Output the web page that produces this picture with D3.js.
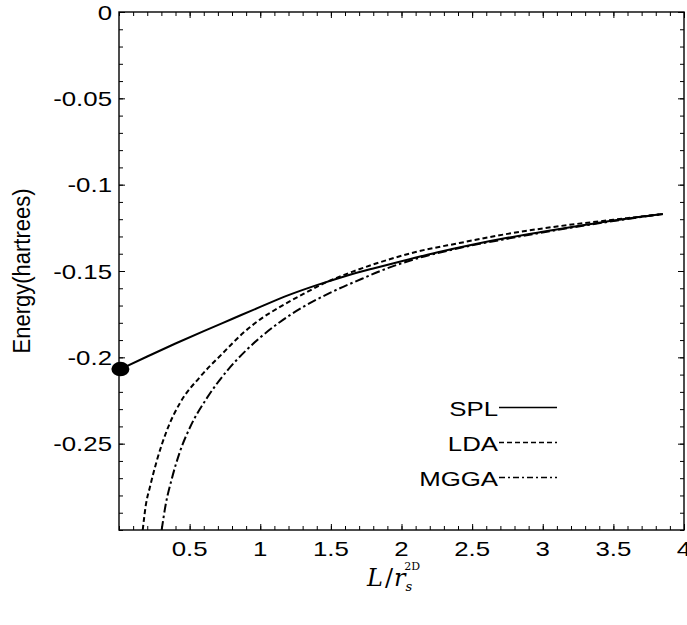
<!DOCTYPE html>
<html>
<head>
<meta charset="utf-8">
<script src="https://cdn.jsdelivr.net/npm/d3@7"></script>
<style>
  html, body { margin: 0; padding: 0; background: #fff; }
  text { font-family: "Liberation Sans", Arial, sans-serif; fill: #000; }
</style>
</head>
<body>
<div id="chart"></div>
<script>
// energy_vs_L.js

// --- DATA ---
const splX  = [0.01, 0.2, 0.4, 0.6, 0.8, 1.0, 1.2, 1.4, 1.6, 1.8, 2.0, 2.25, 2.5, 2.75, 3.0, 3.25, 3.5, 3.85];
const splY  = [-0.2068, -0.1995, -0.1920, -0.1848, -0.1778, -0.1708, -0.1640, -0.1582, -0.1530, -0.1485, -0.1443, -0.1393, -0.1348, -0.1308, -0.1273, -0.1240, -0.1208, -0.1170];

const ldaX  = [0.168, 0.19, 0.219, 0.269, 0.34, 0.432, 0.573, 0.736, 0.88, 1.0, 1.14, 1.3, 1.45, 1.65, 1.845, 2.1, 2.41, 2.75, 3.12, 3.5, 3.85];
const ldaY  = [-0.300, -0.2855, -0.2751, -0.2595, -0.2421, -0.2264, -0.2114, -0.1975, -0.1858, -0.1780, -0.1708, -0.1635, -0.1572, -0.1505, -0.1450, -0.1390, -0.1338, -0.1285, -0.1240, -0.1203, -0.1170];

const mggaX = [0.302, 0.33, 0.375, 0.432, 0.503, 0.623, 0.765, 0.906, 1.0, 1.14, 1.3, 1.49, 1.72, 1.85, 2.1, 2.41, 2.75, 3.12, 3.5, 3.85];
const mggaY = [-0.300, -0.2855, -0.2700, -0.2545, -0.2405, -0.2235, -0.2078, -0.1955, -0.1885, -0.1795, -0.1710, -0.1628, -0.1545, -0.1500, -0.1430, -0.1367, -0.1313, -0.1260, -0.1211, -0.1170];

const startPoint = [0.01, -0.2068];

const xTickVals   = [0.5, 1, 1.5, 2, 2.5, 3, 3.5, 4];
const yTickVals   = [0, -0.05, -0.1, -0.15, -0.2, -0.25];
const legendNames = ['SPL', 'LDA', 'MGGA'];

// --- LAYOUT ---
const width = 687, height = 625;
const plot = { left: 119, right: 684, top: 12, bottom: 530 };
const stretch = 1.23;   // text in the original is drawn a bit wide

const svg = d3.select('#chart').append('svg')
  .attr('width', width)
  .attr('height', height);

svg.append('rect').attr('width', width).attr('height', height).attr('fill', '#fff');

const x = d3.scaleLinear().domain([0, 4]).range([plot.left, plot.right]);
const y = d3.scaleLinear().domain([-0.3, 0]).range([plot.bottom, plot.top]);

const xMinor = d3.range(0, 4.001, 0.1);
const yMinor = d3.range(-0.3, 0.0001, 0.01);

// --- FRAME & TICKS (inward, all four sides) ---
function sideAxis(axisFn, scale, vals, len, tx, ty) {
  const g = svg.append('g')
    .attr('transform', `translate(${tx},${ty})`)
    .call(axisFn(scale).tickValues(vals).tickSize(-len).tickFormat(''));
  g.select('.domain').remove();
  g.selectAll('line').attr('stroke', '#000').attr('stroke-width', 1);
  return g;
}

sideAxis(d3.axisBottom, x, xMinor, 4, 0, plot.bottom);
sideAxis(d3.axisTop,    x, xMinor, 4, 0, plot.top);
sideAxis(d3.axisLeft,   y, yMinor, 4, plot.left, 0);
sideAxis(d3.axisRight,  y, yMinor, 4, plot.right, 0);
sideAxis(d3.axisBottom, x, xTickVals, 6, 0, plot.bottom);
sideAxis(d3.axisTop,    x, xTickVals, 6, 0, plot.top);
sideAxis(d3.axisLeft,   y, yTickVals, 6, plot.left, 0);
sideAxis(d3.axisRight,  y, yTickVals, 6, plot.right, 0);

svg.append('rect')
  .attr('x', plot.left).attr('y', plot.top)
  .attr('width', plot.right - plot.left)
  .attr('height', plot.bottom - plot.top)
  .attr('fill', 'none')
  .attr('stroke', '#000')
  .attr('stroke-width', 1.4);

// tick labels
svg.append('g').selectAll('text')
  .data(xTickVals)
  .enter().append('text')
    .attr('transform', d => `translate(${x(d)},${plot.bottom + 26}) scale(${stretch},1)`)
    .attr('text-anchor', 'middle')
    .style('font-size', '21px')
    .text(d => String(d));

svg.append('g').selectAll('text')
  .data(yTickVals)
  .enter().append('text')
    .attr('transform', d => `translate(${plot.left - 7},${y(d) + 7.5}) scale(${stretch},1)`)
    .attr('text-anchor', 'end')
    .style('font-size', '21px')
    .text(d => String(+d.toFixed(2)));

// axis titles
svg.append('text')
  .attr('transform', `translate(30,271) scale(1.1,1) rotate(-90)`)
  .attr('text-anchor', 'middle')
  .style('font-size', '22px')
  .text('Energy(hartrees)');

const xt = svg.append('text')
  .attr('x', 367).attr('y', 586)
  .style('font-family', '"DejaVu Serif", "Liberation Serif", serif')
  .style('font-size', '24px');
xt.append('tspan').style('font-style', 'italic').text('L');
xt.append('tspan').attr('dx', 2).text('/');
xt.append('tspan').style('font-style', 'italic').attr('dx', 1).text('r');
xt.append('tspan').style('font-style', 'italic').style('font-size', '13px').attr('dy', 5).text('s');
xt.append('tspan').style('font-size', '11px').attr('dx', -8).attr('dy', -21).text('2D');

// --- CURVES ---
svg.append('clipPath').attr('id', 'plotClip')
  .append('rect')
  .attr('x', plot.left).attr('y', plot.top)
  .attr('width', plot.right - plot.left)
  .attr('height', plot.bottom - plot.top);

const line = d3.line()
  .x(d => x(d[0]))
  .y(d => y(d[1]))
  .curve(d3.curveMonotoneX);

const series = [
  { name: 'SPL',  pts: d3.zip(splX, splY),   dash: null,          legDash: null },
  { name: 'LDA',  pts: d3.zip(ldaX, ldaY),   dash: '5,3',         legDash: '5,3' },
  { name: 'MGGA', pts: d3.zip(mggaX, mggaY), dash: '9,3,2.5,3',   legDash: '6,3,2,3' }
];

const curves = svg.append('g').attr('clip-path', 'url(#plotClip)');
curves.selectAll('path')
  .data(series)
  .enter().append('path')
    .attr('d', d => line(d.pts))
    .attr('fill', 'none')
    .attr('stroke', '#000')
    .attr('stroke-width', 2)
    .attr('stroke-dasharray', d => d.dash);

svg.append('ellipse')
  .attr('cx', x(startPoint[0]))
  .attr('cy', y(startPoint[1]))
  .attr('rx', 9)
  .attr('ry', 7.2)
  .attr('fill', '#000');

// --- LEGEND ---
const legend = svg.append('g');
legendNames.forEach((name, i) => {
  const by = 416 + i * 35;
  legend.append('text')
    .attr('transform', `translate(498,${by}) scale(${stretch},1)`)
    .attr('text-anchor', 'end')
    .style('font-size', '21px')
    .text(name);
  legend.append('line')
    .attr('x1', 499).attr('x2', 557)
    .attr('y1', by - 8.5).attr('y2', by - 8.5)
    .attr('stroke', '#000')
    .attr('stroke-width', 1.5)
    .attr('stroke-dasharray', series[i].legDash);
});
</script>
</body>
</html>
